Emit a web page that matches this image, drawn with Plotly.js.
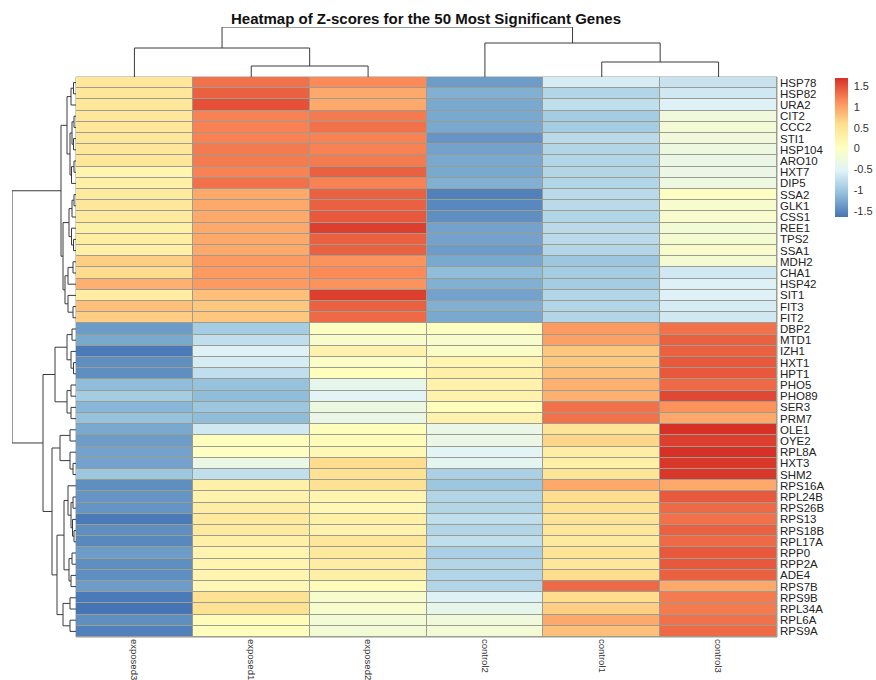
<!DOCTYPE html>
<html>
<head>
<meta charset="utf-8">
<script src="https://cdn.plot.ly/plotly-3.0.1.min.js"></script>
<style>html,body{margin:0;padding:0;background:#fff;}#chart{width:876px;height:680px;}</style>
</head>
<body>
<div id="chart"></div>
<script>
// ---- data ----
const samples = ['exposed3','exposed1','exposed2','control2','control1','control3'];
const genes = ['HSP78','HSP82','URA2','CIT2','CCC2','STI1','HSP104','ARO10','HXT7','DIP5',
  'SSA2','GLK1','CSS1','REE1','TPS2','SSA1','MDH2','CHA1','HSP42','SIT1','FIT3','FIT2',
  'DBP2','MTD1','IZH1','HXT1','HPT1','PHO5','PHO89','SER3','PRM7','OLE1','OYE2','RPL8A',
  'HXT3','SHM2','RPS16A','RPL24B','RPS26B','RPS13','RPS18B','RPL17A','RPP0','RPP2A','ADE4',
  'RPS7B','RPS9B','RPL34A','RPL6A','RPS9A'];
const exposed3 = [0.45,0.45,0.45,0.45,0.45,0.45,0.45,0.45,0.2,0.3,
  0.4,0.45,0.4,0.3,0.35,0.3,0.7,0.6,0.9,0.35,0.8,0.7,
  -1.35,-1.25,-1.6,-1.45,-1.45,-1.1,-0.95,-1.15,-1.05,-1.25,-1.35,-1.3,
  -1.3,-1.0,-1.45,-1.4,-1.4,-1.6,-1.45,-1.5,-1.35,-1.45,-1.45,
  -1.35,-1.6,-1.65,-1.45,-1.55];
const exposed1 = [1.3,1.4,1.5,1.2,1.2,1.2,1.25,1.25,1.2,1.3,
  0.95,0.95,0.95,0.95,0.95,0.95,1.05,1.05,1.05,0.8,0.75,0.75,
  -0.95,-0.75,-0.55,-0.6,-0.75,-1.05,-1.1,-1.0,-1.1,-0.65,0.05,0.0,
  -0.35,-0.75,0.3,0.25,0.35,0.4,0.4,0.3,0.2,0.2,0.2,
  0.15,0.55,0.55,0.1,0.05];
const exposed2 = [1.15,0.95,0.95,1.25,1.3,1.2,1.2,1.25,1.4,1.2,
  1.4,1.4,1.45,1.6,1.4,1.4,1.1,1.15,1.1,1.6,1.4,1.35,
  0.0,-0.1,0.25,-0.05,0.05,-0.4,-0.5,-0.3,-0.35,0.05,0.1,0.15,
  0.6,0.55,0.55,0.2,0.15,0.3,0.25,0.45,0.4,0.35,0.3,
  0.1,-0.1,-0.1,-0.2,-0.2];
const control2 = [-1.35,-1.2,-1.25,-1.25,-1.25,-1.4,-1.3,-1.25,-1.25,-1.2,
  -1.55,-1.5,-1.45,-1.3,-1.3,-1.35,-1.25,-1.1,-1.2,-1.3,-1.2,-1.25,
  0.0,-0.1,-0.05,0.2,0.3,0.25,0.25,0.05,0.25,-0.35,-0.35,-0.5,
  -0.45,-0.9,-1.0,-0.85,-0.85,-0.75,-0.85,-0.75,-0.9,-0.85,-0.85,
  -0.85,-0.55,-0.4,-0.25,-0.2];
const control1 = [-0.6,-0.85,-0.75,-0.95,-0.95,-0.8,-0.85,-0.85,-0.85,-0.85,
  -0.8,-0.8,-0.85,-0.8,-0.8,-0.85,-1.0,-0.95,-0.95,-0.85,-0.85,-0.85,
  1.05,1.0,0.75,0.75,0.8,0.9,0.9,1.3,1.3,0.5,0.65,0.35,
  0.3,0.5,0.95,0.6,0.55,0.5,0.45,0.4,0.5,0.45,0.6,
  1.35,0.6,0.7,0.95,0.8];
const control3 = [-0.7,-0.65,-0.55,-0.25,-0.2,-0.25,-0.3,-0.35,-0.35,-0.3,
  0.0,-0.1,-0.1,-0.2,-0.15,-0.1,-0.15,-0.65,-0.55,-0.55,-0.6,-0.65,
  1.3,1.4,1.4,1.45,1.45,1.35,1.55,1.1,0.95,1.75,1.6,1.75,
  1.65,1.65,0.95,1.45,1.35,1.3,1.4,1.35,1.45,1.45,1.4,
  0.95,1.25,1.25,1.3,1.35];
const colorTicks = [-1.5,-1,-0.5,0,0.5,1,1.5];
const colorTickText = ['-1.5','-1','-0.5','0','0.5','1','1.5'];

// dendrograms: [height, left, right]; leaves are display indices
const colTree = [50, [29, 0, [11, 1, 2]], [34, 3, [15, 4, 5]]];
const rowTree = [64,
  [15,
    [9, [5, [2.5, 0, 1], 2], [6, [4, [2, 3, 4], [2.5, 5, 6]], [4.5, [2, 7, 8], 9]]],
    [13, [7, [4, [2, 10, 11], 12], [4.5, 13, [2.5, 14, 15]]],
         [11, [8, [3, 16, 17], 18], [8, 19, [3, 20, 21]]]]],
  [33,
    [21, [9, [4, 22, 23], [5, 24, [2.5, 25, 26]]], [9, [5, 27, 28], [5, 29, 30]]],
    [24, [16, [6, 31, 32], [6, 33, [3, 34, 35]]],
         [19, [12, [8, 36, [5, [3, 37, 38], [3.5, 39, [2, 40, 41]]]], [7, [4, 42, 43], [5, 44, 45]]],
              [13, [6, 46, 47], [6, 48, 49]]]]]];

// ---- build ----
function dendro(tree) {
  const pos = [], hgt = [];
  function walk(n) {
    if (typeof n === 'number') return {p: n, h: 0};
    const l = walk(n[1]), r = walk(n[2]);
    pos.push(l.p, l.p, r.p, r.p, null);
    hgt.push(l.h, n[0], n[0], r.h, null);
    return {p: (l.p + r.p) / 2, h: n[0]};
  }
  walk(tree);
  return {pos, hgt};
}
const z = genes.map((g, i) => [exposed3[i], exposed1[i], exposed2[i], control2[i], control1[i], control3[i]]);
const W = 876, H = 680;
const px = v => v / W, py = v => 1 - v / H;
const hmX = [px(76), px(777)], hmY = [py(637), py(77)];

const cd = dendro(colTree), rd = dendro(rowTree);
const lineStyle = {color: '#3a3a3a', width: 1};
const gridCol = '#9c9c90';

const data = [
  {type: 'heatmap', x: samples, y: genes, z: z, xgap: 1, ygap: 1,
   zmin: -1.64, zmax: 1.69,
   colorscale: [[0,'#4575B4'],[1/6,'#91BFDB'],[2/6,'#E0F3F8'],[3/6,'#FFFFBF'],[4/6,'#FEE090'],[5/6,'#FC8D59'],[1,'#D73027']],
   colorbar: {x: px(835), xanchor: 'left', y: py(78), yanchor: 'top',
     lenmode: 'pixels', len: 139, thicknessmode: 'pixels', thickness: 13,
     outlinewidth: 0, xpad: 0, ypad: 0, ticks: 'outside', ticklen: 4, tickcolor: 'rgba(0,0,0,0)',
     tickvals: colorTicks, ticktext: colorTickText,
     tickfont: {family: 'Liberation Sans, Arial', size: 11, color: '#333'}},
   hoverinfo: 'skip'},
  {type: 'scatter', mode: 'lines', x: cd.pos, y: cd.hgt, xaxis: 'x3', yaxis: 'y3',
   line: lineStyle, hoverinfo: 'skip', showlegend: false, connectgaps: false},
  {type: 'scatter', mode: 'lines', x: rd.hgt, y: rd.pos, xaxis: 'x2', yaxis: 'y2',
   line: lineStyle, hoverinfo: 'skip', showlegend: false, connectgaps: false}
];

const hidden = {showgrid: false, zeroline: false, showticklabels: false, ticks: '', showline: false, fixedrange: true};
const layout = {
  width: W, height: H,
  margin: {l: 0, r: 0, t: 0, b: 0},
  paper_bgcolor: '#fff', plot_bgcolor: '#fff',
  showlegend: false,
  title: {text: '<b>Heatmap of Z-scores for the 50 Most Significant Genes</b>',
    x: 426 / W, xanchor: 'center', y: py(19), yanchor: 'middle',
    font: {family: 'Liberation Sans, Arial', size: 15, color: '#111'}},
  xaxis: {domain: hmX, type: 'category', showgrid: false, zeroline: false, ticks: '',
    tickangle: 90, automargin: false, ticklabelstandoff: 1,
    tickfont: {family: 'Liberation Sans, Arial', size: 9.5, color: '#333'}},
  yaxis: {domain: hmY, type: 'category', autorange: 'reversed', side: 'right',
    tickmode: 'array', tickvals: genes, ticktext: genes,
    showgrid: false, zeroline: false, ticks: '', automargin: false, ticklabelstandoff: 2,
    tickfont: {family: 'Liberation Sans, Arial', size: 11.5, color: '#222'}},
  xaxis3: Object.assign({domain: hmX, range: [-0.5, 5.5], anchor: 'y3'}, hidden),
  yaxis3: Object.assign({domain: [py(77), py(27)], range: [0, 50], anchor: 'x3'}, hidden),
  xaxis2: Object.assign({domain: [px(12), px(76)], range: [64, 0], anchor: 'y2'}, hidden),
  yaxis2: Object.assign({domain: hmY, range: [49.5, -0.5], anchor: 'x2'}, hidden),
  shapes: [{type: 'rect', layer: 'below', xref: 'paper', yref: 'paper', x0: hmX[0], x1: hmX[1], y0: hmY[0], y1: hmY[1],
    fillcolor: gridCol, line: {color: gridCol, width: 1}}]
};
Plotly.newPlot('chart', data, layout, {staticPlot: true});
</script>
</body>
</html>
